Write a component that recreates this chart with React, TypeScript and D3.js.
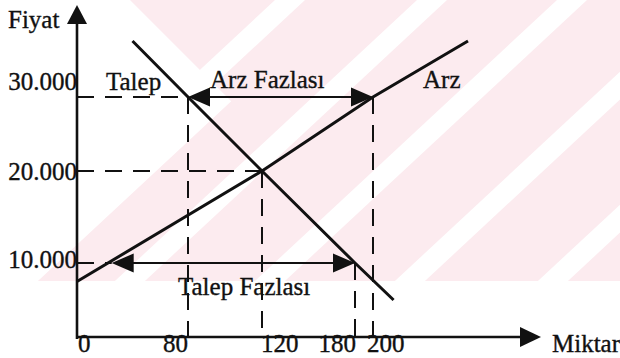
import React from "react";
import * as d3 from "d3";

// ---------- data ----------
const quantityTicks = [0, 80, 120, 180, 200];
const quantityTickLabels = ["0", "80", "120", "180", "200"];
const priceTicks = [30000, 20000, 10000];
const priceTickLabels = ["30.000", "20.000", "10.000"];

// Arz (supply) curve
const supplyQ = [0, 120, 200, 260];
const supplyP = [7500, 20000, 30000, 37500];
// Talep (demand) curve
const demandQ = [40, 80, 120, 180, 213];
const demandP = [37500, 30000, 20000, 10000, 5000];

// dashed guides
const hGuidePrice = [30000, 20000, 10000];
const hGuideToQ = [80, 120, 25];
const vGuideQ = [80, 120, 180, 200];
const vGuideFromP = [30000, 20000, 10000, 30000];

// surplus arrows
const surplusLabels = ["Arz Fazlası", "Talep Fazlası"];
const surplusPrice = [30000, 10000];
const surplusFromQ = [80, 25];
const surplusToQ = [200, 180];

const curveLabels = ["Talep", "Arz"];
const axisTitles = ["Fiyat", "Miktar"];

// ---------- layout ----------
const W = 620;
const H = 358;
const FONT = "'Liberation Serif', 'Times New Roman', serif";
const FS = 25;
const INK = "#111";
const PINK = "#fcebef";

const xScale = d3
  .scaleLinear()
  .domain([0, 80, 120, 180, 200, 260])
  .range([77, 188, 262, 355, 373, 468]);
const yScale = d3
  .scaleLinear()
  .domain([0, 10000, 20000, 30000, 37500])
  .range([337, 263, 171, 97, 41]);

const xLabelLayout = [
  { anchor: "start", dx: 1 },
  { anchor: "end", dx: 0 },
  { anchor: "start", dx: -1 },
  { anchor: "end", dx: 1 },
  { anchor: "start", dx: -6 },
];
const xLabelBaseline = 352;
const yLabelDy = [-7, 9, 5];
const surplusLabelPos = [
  { x: 210, y: 88 },
  { x: 178, y: 295 },
];
const curveLabelPos = [
  { x: 106, y: 90 },
  { x: 423, y: 88 },
];
const axisTitlePos = [
  { x: 8, y: 28 },
  { x: 552, y: 352 },
];

function head(tx: number, ty: number, dir: "l" | "r" | "u", len: number, hw: number) {
  if (dir === "l") return `${tx},${ty} ${tx + len},${ty - hw} ${tx + len},${ty + hw}`;
  if (dir === "r") return `${tx},${ty} ${tx - len},${ty - hw} ${tx - len},${ty + hw}`;
  return `${tx},${ty} ${tx - hw},${ty + len} ${tx + hw},${ty + len}`;
}

// watermark geometry (diagonal bands)
const SL = 1.075;
const WM_BOTTOM = 281;
function band(a: number, b: number) {
  return `${a},0 ${b},0 ${b - SL * WM_BOTTOM},${WM_BOTTOM} ${a - SL * WM_BOTTOM},${WM_BOTTOM}`;
}
const whiteBands = [
  [275, 305],
  [417, 447],
  [557, 587],
  [697, 727],
  [840, 870],
  [980, 1010],
];

export default function App() {
  const line = d3
    .line<[number, number]>()
    .x((d) => xScale(d[0]))
    .y((d) => yScale(d[1]));
  const supply = line(supplyQ.map((q, i) => [q, supplyP[i]] as [number, number]))!;
  const demand = line(demandQ.map((q, i) => [q, demandP[i]] as [number, number]))!;

  const x0 = xScale(0);
  const y0 = yScale(0);
  const xAxisEnd = 541;
  const yAxisTop = 5;

  const vx = 231.2;
  const vy = 101.2;

  return (
    <svg
      width={W}
      height={H}
      style={{ position: "absolute", left: 0, top: 0, display: "block", background: "#fff" }}
      fontFamily={FONT}
    >
      <defs>
        <clipPath id="wm">
          <rect x={0} y={0} width={W} height={WM_BOTTOM} />
        </clipPath>
      </defs>
      {/* watermark */}
      <g clipPath="url(#wm)">
        <polygon
          points={`130,0 ${W},0 ${W},${WM_BOTTOM} ${340 - SL * WM_BOTTOM},${WM_BOTTOM} ${vx},${vy}`}
          fill={PINK}
        />
        {whiteBands.map((b, i) => (
          <polygon key={i} points={band(b[0], b[1])} fill="#fff" />
        ))}
      </g>

      {/* dashed guides */}
      <g stroke={INK} strokeWidth={2} strokeDasharray="17 11" fill="none">
        {hGuidePrice.map((p, i) => (
          <line key={"h" + i} x1={x0} x2={xScale(hGuideToQ[i])} y1={yScale(p)} y2={yScale(p)} />
        ))}
        {vGuideQ.map((q, i) => (
          <line key={"v" + i} x1={xScale(q)} x2={xScale(q)} y1={yScale(vGuideFromP[i])} y2={y0} />
        ))}
      </g>

      {/* axes */}
      <g stroke={INK} strokeWidth={2.6} fill="none">
        <line x1={x0} x2={x0} y1={y0 + 2} y2={yAxisTop + 12} />
        <line x1={x0 - 1} x2={xAxisEnd - 12} y1={y0} y2={y0} />
      </g>
      <polygon points={head(x0, yAxisTop, "u", 19, 10)} fill={INK} />
      <polygon points={head(xAxisEnd, y0, "r", 21, 10)} fill={INK} />

      {/* curves */}
      <path d={supply} stroke={INK} strokeWidth={3} fill="none" />
      <path d={demand} stroke={INK} strokeWidth={3} fill="none" />

      {/* surplus arrows */}
      {surplusPrice.map((p, i) => {
        const y = yScale(p);
        const a = xScale(surplusFromQ[i]);
        const b = xScale(surplusToQ[i]);
        return (
          <g key={"s" + i}>
            <line x1={a + 10} x2={b - 10} y1={y} y2={y} stroke={INK} strokeWidth={2} />
            <polygon points={head(a, y, "l", 22, 9.5)} fill={INK} />
            <polygon points={head(b, y, "r", 22, 9.5)} fill={INK} />
          </g>
        );
      })}

      {/* tick labels */}
      <g fontSize={FS} fill={INK} stroke={INK} strokeWidth={0.35}>
        {priceTicks.map((p, i) => (
          <text key={"yl" + i} x={x0} y={yScale(p) + yLabelDy[i]} textAnchor="end">
            {priceTickLabels[i]}
          </text>
        ))}
        {quantityTicks.map((q, i) => (
          <text
            key={"xl" + i}
            x={xScale(q) + xLabelLayout[i].dx}
            y={xLabelBaseline}
            textAnchor={xLabelLayout[i].anchor as any}
          >
            {quantityTickLabels[i]}
          </text>
        ))}
        {surplusLabels.map((t, i) => (
          <text key={"sl" + i} x={surplusLabelPos[i].x} y={surplusLabelPos[i].y}>
            {t}
          </text>
        ))}
        {curveLabels.map((t, i) => (
          <text key={"cl" + i} x={curveLabelPos[i].x} y={curveLabelPos[i].y}>
            {t}
          </text>
        ))}
        {axisTitles.map((t, i) => (
          <text key={"at" + i} x={axisTitlePos[i].x} y={axisTitlePos[i].y}>
            {t}
          </text>
        ))}
      </g>
    </svg>
  );
}
